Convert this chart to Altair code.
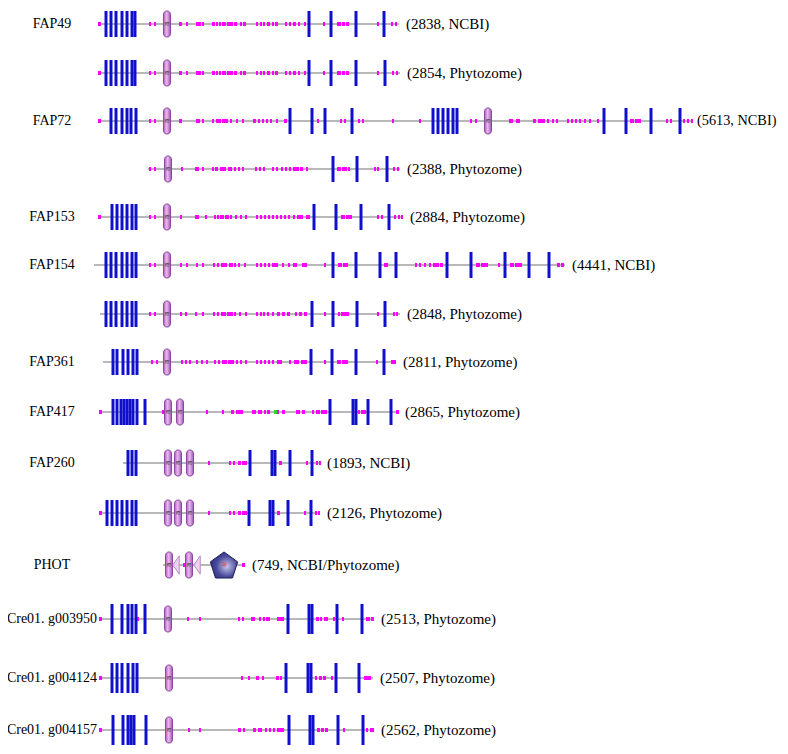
import altair as alt
import pandas as pd

# ---------------- data (diagram positions along each protein) ----------------
row_names = ["FAP49", "", "FAP72", "", "FAP153", "FAP154", "", "FAP361", "FAP417",
             "FAP260", "", "PHOT", "Cre01. g003950", "Cre01. g004124", "Cre01. g004157"]
row_notes = ["(2838, NCBI)", "(2854, Phytozome)", "(5613, NCBI)", "(2388, Phytozome)",
             "(2884, Phytozome)", "(4441, NCBI)", "(2848, Phytozome)", "(2811, Phytozome)",
             "(2865, Phytozome)", "(1893, NCBI)", "(2126, Phytozome)", "(749, NCBI/Phytozome)",
             "(2513, Phytozome)", "(2507, Phytozome)", "(2562, Phytozome)"]
row_lane = [24, 73, 121, 169, 217, 265, 314, 362, 412, 463, 513, 565, 619, 678, 730]
line_start = [98, 98, 98, 148, 98, 94, 100, 103, 100, 123, 100, 163, 100, 100, 100]
line_end = [399, 400, 693, 400, 403, 565, 400, 396, 398, 320, 320, 245, 374, 373, 374]

tm_sites = [
    [106, 111, 116, 122, 127, 132, 135, 309, 331, 356, 384],
    [106, 111, 116, 122, 127, 132, 135, 309, 331, 356, 385],
    [111, 116, 122, 127, 131, 136, 290, 312, 325, 352, 433, 438, 443, 448, 453, 457, 604, 626, 651, 680],
    [333, 357, 387],
    [112, 117, 122, 127, 132, 136, 314, 336, 361, 389],
    [106, 111, 116, 122, 127, 132, 136, 333, 356, 380, 396, 447, 471, 505, 529, 549],
    [106, 111, 116, 122, 127, 132, 136, 312, 333, 357, 385],
    [113, 117, 123, 128, 133, 137, 311, 332, 356, 384],
    [113, 117, 121, 124, 127, 130, 133, 137, 145, 330, 353, 356, 368, 391],
    [128, 132, 136, 250, 272, 275, 290, 312],
    [107, 112, 117, 122, 127, 132, 136, 249, 270, 273, 288, 311],
    [],
    [112, 122, 128, 132, 136, 145, 288, 309, 312, 337, 362],
    [112, 117, 122, 128, 133, 137, 286, 308, 311, 336, 359],
    [113, 123, 128, 131, 134, 146, 289, 310, 313, 338, 363],
]

pas_sites = [[167], [167], [167, 488], [168], [167], [167], [167], [167], [168, 180],
             [168, 178, 190], [168, 178, 190], [169, 189], [168], [169], [169]]
pac_sites = [[], [], [], [], [], [], [], [], [], [], [], [176, 197], [], [], []]
kinase_sites = [[], [], [], [], [], [], [], [], [], [], [], [224], [], [], []]

low_complexity = [
    [(98, 101), (149, 151), (154, 156), (179, 182), (186, 188), (196, 201), (202, 204), (212, 215),
     (216, 218), (219, 221), (222, 226), (227, 233), (234, 237), (240, 242), (243, 246), (256, 258),
     (260, 262), (263, 265), (267, 270), (272, 274), (275, 278), (285, 287), (289, 291), (293, 296),
     (298, 300), (304, 306), (323, 325), (337, 341), (342, 345), (346, 349), (377, 379), (391, 393),
     (395, 397)],
    [(98, 101), (149, 151), (154, 156), (179, 182), (186, 188), (196, 201), (202, 204), (212, 215),
     (216, 218), (219, 221), (222, 226), (227, 233), (234, 237), (240, 242), (243, 246), (256, 258),
     (260, 262), (263, 265), (267, 270), (272, 274), (275, 278), (285, 287), (289, 291), (293, 296),
     (298, 300), (304, 306), (323, 325), (337, 341), (342, 345), (346, 349), (377, 379), (392, 394),
     (396, 398)],
    [(98, 101), (149, 151), (154, 156), (179, 182), (196, 200), (202, 204), (212, 214), (216, 221),
     (222, 228), (230, 232), (236, 238), (242, 244), (253, 256), (258, 260), (262, 264), (266, 268),
     (270, 272), (276, 278), (284, 287), (317, 319), (340, 342), (344, 346), (358, 360), (362, 364),
     (392, 394), (419, 421), (470, 472), (475, 477), (509, 513), (516, 520), (533, 536), (538, 545),
     (547, 549), (552, 554), (556, 558), (567, 569), (571, 573), (575, 577), (579, 581), (584, 586),
     (589, 591), (597, 599), (630, 634), (635, 641), (666, 668), (670, 672), (683, 685), (687, 689),
     (691, 693)],
    [(149, 151), (154, 156), (181, 183), (195, 199), (202, 204), (212, 214), (215, 218), (220, 226),
     (228, 232), (234, 236), (238, 240), (242, 244), (255, 257), (259, 261), (263, 265), (272, 274),
     (276, 278), (281, 283), (285, 287), (289, 291), (293, 299), (300, 303), (306, 308), (337, 341),
     (342, 347), (348, 350), (374, 376), (377, 379), (393, 395), (397, 399)],
    [(98, 101), (149, 151), (154, 156), (180, 182), (195, 199), (205, 207), (214, 216), (217, 219),
     (220, 224), (225, 229), (230, 232), (235, 237), (240, 242), (245, 247), (256, 258), (260, 262),
     (264, 266), (268, 270), (272, 274), (276, 278), (280, 282), (284, 286), (288, 290), (293, 295),
     (297, 303), (306, 310), (341, 345), (346, 352), (377, 379), (381, 383), (394, 396), (398, 400),
     (401, 403)],
    [(149, 151), (154, 156), (180, 182), (186, 188), (196, 198), (202, 204), (213, 215), (217, 219),
     (221, 227), (229, 233), (234, 236), (238, 240), (244, 246), (256, 258), (260, 262), (264, 266),
     (268, 270), (272, 278), (282, 284), (288, 290), (293, 297), (302, 307), (324, 326), (338, 342),
     (343, 348), (384, 388), (415, 417), (419, 421), (424, 426), (429, 431), (433, 439), (440, 443),
     (476, 480), (481, 488), (498, 500), (510, 514), (515, 522), (557, 560), (561, 564)],
    [(149, 151), (154, 156), (180, 182), (185, 187), (195, 197), (202, 204), (213, 215), (217, 219),
     (221, 226), (227, 233), (234, 236), (239, 241), (245, 247), (256, 258), (260, 262), (263, 265),
     (267, 269), (272, 274), (277, 280), (282, 285), (287, 290), (295, 297), (299, 302), (304, 307),
     (324, 326), (338, 340), (341, 349), (377, 379), (393, 395), (396, 398)],
    [(151, 153), (156, 158), (181, 183), (185, 187), (189, 191), (196, 198), (201, 203), (206, 208),
     (214, 216), (218, 220), (222, 227), (228, 234), (236, 238), (240, 242), (245, 247), (256, 258),
     (260, 262), (264, 266), (268, 270), (272, 274), (277, 282), (289, 291), (294, 299), (301, 307),
     (324, 326), (337, 341), (342, 348), (376, 378), (391, 396)],
    [(99, 102), (162, 164), (206, 208), (222, 224), (231, 234), (236, 243), (252, 256), (258, 262),
     (264, 266), (267, 270), (277, 279), (282, 285), (296, 300), (302, 305), (312, 314), (316, 320),
     (321, 327), (358, 360), (361, 366), (396, 399)],
    [(208, 210), (229, 231), (233, 235), (238, 241), (242, 247), (279, 282), (306, 308), (316, 318),
     (319, 321)],
    [(99, 102), (208, 210), (229, 231), (233, 235), (238, 241), (242, 247), (277, 280), (304, 306),
     (315, 317), (318, 320)],
    [(183, 186), (242, 245)],
    [(99, 102), (137, 139), (187, 189), (199, 201), (238, 240), (242, 244), (251, 255), (259, 261),
     (263, 265), (266, 270), (277, 284), (316, 319), (320, 322), (324, 328), (333, 335), (342, 344),
     (366, 370), (371, 374)],
    [(99, 102), (241, 243), (248, 250), (256, 259), (262, 264), (276, 279), (280, 282), (315, 317),
     (319, 322), (323, 326), (331, 333), (364, 371)],
    [(99, 102), (188, 190), (199, 201), (238, 241), (243, 245), (253, 256), (258, 262), (265, 267),
     (269, 271), (273, 275), (277, 284), (317, 320), (321, 324), (325, 328), (343, 345), (366, 368),
     (370, 374)],
]

other_sites = [[], [], [], [], [], [], [], [], [(274, 277)], [], [], [], [], [], []]

# ---------------- tables ----------------
n = len(row_lane)
rows_df = pd.DataFrame({"lane": row_lane, "start": line_start, "end": line_end,
                        "name": row_names, "note": row_notes,
                        "big": [1 if i >= 12 else 0 for i in range(n)]})
tm_df = pd.DataFrame([{"lane": row_lane[i], "pos": p, "big": 1 if i >= 12 else 0}
                      for i in range(n) for p in tm_sites[i]])
pas_df = pd.DataFrame([{"lane": row_lane[i], "pos": p} for i in range(n) for p in pas_sites[i]])
pac_df = pd.DataFrame([{"lane": row_lane[i], "pos": p} for i in range(n) for p in pac_sites[i]])
kin_df = pd.DataFrame([{"lane": row_lane[i], "pos": p} for i in range(n) for p in kinase_sites[i]])
lc_df = pd.DataFrame([{"lane": row_lane[i], "a": a, "b": b} for i in range(n) for a, b in low_complexity[i]])
ot_df = pd.DataFrame([{"lane": row_lane[i], "a": a, "b": b} for i in range(n) for a, b in other_sites[i]])

xs = alt.Scale(domain=[8, 780], nice=False, zero=False)
ys = alt.Scale(domain=[8, 746], nice=False, zero=False, reverse=True)

SERIF = "Liberation Serif, Times New Roman, Times, serif"


def X(f):
    return alt.X(f, type="quantitative", scale=xs, axis=None)


def Y(f):
    return alt.Y(f, type="quantitative", scale=ys, axis=None)


backbone = alt.Chart(rows_df).mark_rule(color="#b8b8b8", strokeWidth=2).encode(
    x=X("start"), x2="end", y=Y("lane"))

lc = alt.Chart(lc_df).mark_rule(color="#ff00ff", strokeWidth=4, strokeCap="butt").encode(
    x=X("a"), x2="b", y=Y("lane"))

ot = alt.Chart(ot_df).mark_rule(color="#22dd22", strokeWidth=4, strokeCap="butt").encode(
    x=X("a"), x2="b", y=Y("lane"))

tm = alt.Chart(tm_df).transform_calculate(
    y1="datum.lane - 13 - 2*datum.big", y2="datum.lane + 13 + 2*datum.big"
).mark_rule(color="#1010cc", strokeWidth=3, strokeCap="butt").encode(
    x=X("pos"), y=Y("y1"), y2="y2")

capsule = ("M -0.27,-0.7 C -0.27,-0.9 -0.15,-1 0,-1 C 0.15,-1 0.27,-0.9 0.27,-0.7 "
           "L 0.27,0.7 C 0.27,0.9 0.15,1 0,1 C -0.15,1 -0.27,0.9 -0.27,0.7 Z")
pas_grad = alt.Gradient(gradient="linear", x1=0, x2=1, y1=0, y2=0,
                        stops=[alt.GradientStop(color="#b060c0", offset=0),
                               alt.GradientStop(color="#eab8ee", offset=0.45),
                               alt.GradientStop(color="#a058b4", offset=1)])
pas = alt.Chart(pas_df).mark_point(shape=capsule, size=680, filled=True, fill=pas_grad,
                                   stroke="#8a44a0", strokeWidth=1, opacity=1).encode(
    x=X("pos"), y=Y("lane"))
pas_glyph = alt.Chart(pas_df).mark_text(text="≋", fontSize=7, color="#444444").encode(
    x=X("pos"), y=Y("lane"))

tri_path = "M -0.25,0 L 0.25,-0.7 L 0.25,0.7 Z"
pac = alt.Chart(pac_df).mark_point(shape=tri_path, size=680, filled=True, fill="#ecd2f0",
                                   stroke="#b888c8", strokeWidth=1, opacity=1).encode(
    x=X("pos"), y=Y("lane"))

penta = ("M 0,-0.905 L 0.951,-0.214 L 0.588,0.904 L -0.588,0.904 L -0.951,-0.214 Z")
kin_grad = alt.RadialGradient(gradient="radial", x1=0.6, y1=0.55, x2=0.6, y2=0.55, r1=0, r2=0.75,
                              stops=[alt.GradientStop(color="#c8c8f0", offset=0),
                                     alt.GradientStop(color="#4a4a9c", offset=0.5),
                                     alt.GradientStop(color="#22226a", offset=1)])
kin = alt.Chart(kin_df).mark_point(shape=penta, size=830, filled=True, fill=kin_grad,
                                   stroke="#1c1c5c", strokeWidth=1, opacity=1).encode(
    x=X("pos"), y=Y("lane"))
kin_glyph = alt.Chart(kin_df).mark_text(text="≋", fontSize=8, color="#e04848").encode(
    x=X("pos"), y=Y("lane"))

names = alt.Chart(rows_df).transform_filter("datum.name != ''").mark_text(
    font=SERIF, fontSize=14, color="black", align="center", baseline="middle"
).encode(x=alt.value(44), y=Y("lane"), text="name:N")

notes = alt.Chart(rows_df).transform_calculate(
    tx="datum.end + (datum.end > 600 ? 4 : 7)"
).mark_text(
    font=SERIF, color="black", align="left", baseline="middle"
).encode(x=X("tx"), y=Y("lane"), text="note:N",
         size=alt.condition("datum.end > 600", alt.value(14.3), alt.value(15)))

chart = alt.layer(backbone, lc, ot, tm, pas, pas_glyph, pac, kin, kin_glyph, names, notes).properties(
    width=772, height=738, padding=0, autosize="none"
).configure_view(stroke=None)

chart.save("out.html", embed_options={"renderer": "svg", "actions": False})
